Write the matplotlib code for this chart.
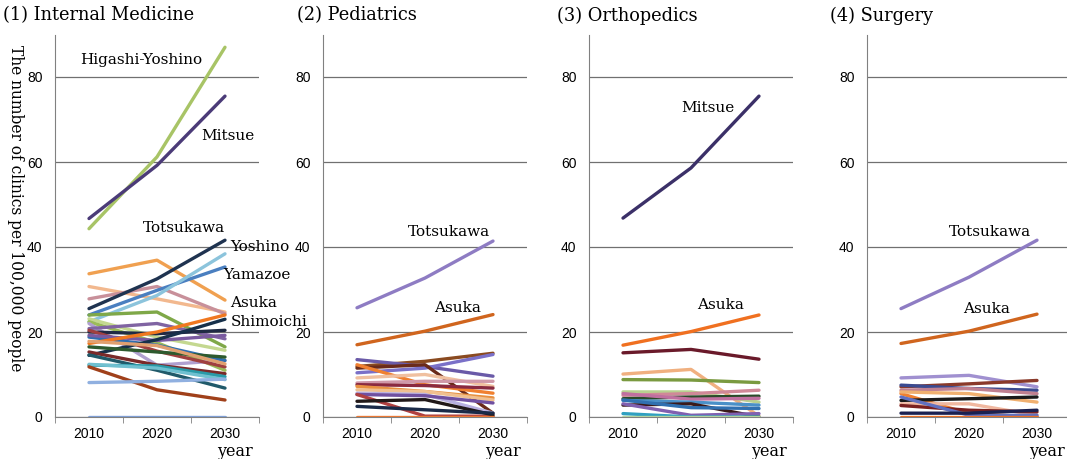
"""Projected clinics per 100,000 people by municipality, four specialties."""

import matplotlib
matplotlib.use("Agg")
import matplotlib.pyplot as plt

YEARS = [2010, 2020, 2030]

# each row: values at 2010, 2020, 2030
INTERNAL = [
    [44.3, 61.2, 87.0],   # Higashi-Yoshino
    [46.7, 59.2, 75.5],   # Mitsue
    [33.7, 36.9, 27.5],
    [30.7, 27.8, 24.7],
    [27.8, 30.7, 24.3],
    [24.0, 29.8, 35.3],   # Yamazoe
    [22.4, 28.6, 38.4],   # Yoshino
    [25.5, 32.5, 41.6],   # Totsukawa
    [24.0, 24.7, 16.5],
    [23.1, 18.8, 15.7],
    [22.4, 17.5, 11.0],
    [22.0, 12.2, 13.3],
    [20.8, 22.0, 18.4],
    [20.0, 19.6, 20.4],
    [20.4, 15.5, 11.8],
    [18.8, 16.9, 13.3],
    [19.2, 18.0, 19.2],
    [17.3, 20.0, 24.0],   # Asuka
    [14.5, 18.2, 23.0],   # Shimoichi
    [16.5, 15.3, 14.1],
    [15.3, 12.2, 10.2],
    [17.8, 16.8, 12.5],
    [14.6, 11.0, 6.8],
    [12.2, 12.0, 9.5],
    [12.4, 11.5, 8.8],
    [11.8, 6.4, 4.0],
    [8.1, 8.4, 8.9],
    [0.0, 0.0, 0.0],
]
INTERNAL_COLORS = [
    "#a8c466", "#4b3b78", "#f0a050", "#f2b88e", "#c8909a", "#4a7fc0",
    "#8cc4dc", "#1f3350", "#7fa848", "#c4d890", "#9bbb59", "#b0a0d0",
    "#8064a2", "#1f2a44", "#a04040", "#2f6eb0", "#7a5aa0", "#f07820",
    "#17304a", "#2e5a2e", "#7a2a2a", "#e0a070", "#205a6a", "#2a9aa8",
    "#70c0d0", "#a0401a", "#90b0e0", "#7fa0d8",
]

PEDIATRICS = [
    [25.7, 32.7, 41.4],   # Totsukawa
    [17.0, 20.2, 24.1],   # Asuka
    [11.9, 13.1, 15.0],
    [13.5, 11.9, 9.6],
    [10.4, 11.5, 14.7],
    [11.5, 12.3, 0.9],
    [12.3, 7.6, 5.6],
    [9.2, 10.0, 7.2],
    [8.0, 8.4, 8.4],
    [7.6, 7.4, 6.8],
    [7.2, 6.0, 4.5],
    [6.4, 6.0, 4.0],
    [5.6, 5.3, 0.9],
    [5.3, 5.0, 3.3],
    [5.3, 0.2, 0.2],
    [3.7, 4.1, 0.5],
    [2.5, 1.7, 0.9],
    [0.0, 0.0, 0.0],
]
PEDIATRICS_COLORS = [
    "#8e7cc3", "#d0651e", "#8a4a20", "#6a5aa8", "#7a70c8", "#6a2a1a",
    "#f08030", "#f0c0a0", "#d098a8", "#8a2a40", "#e89040", "#f0c090",
    "#b8b0e0", "#7050a0", "#b04040", "#201818", "#1a2a48", "#f07830",
]

ORTHOPEDICS = [
    [46.8, 58.6, 75.5],   # Mitsue
    [16.9, 20.1, 24.0],   # Asuka
    [15.1, 15.9, 13.6],
    [10.1, 11.2, 0.2],
    [8.8, 8.7, 8.1],
    [5.9, 5.9, 3.5],
    [5.1, 5.5, 6.3],
    [4.3, 4.7, 4.9],
    [5.5, 4.2, 4.4],
    [3.9, 3.5, 2.8],
    [2.8, 3.1, 0.0],
    [3.1, 0.4, 0.8],
    [4.0, 2.2, 2.0],
    [0.8, 0.0, 0.0],
    [0.0, 0.0, 0.0],
]
ORTHOPEDICS_COLORS = [
    "#3b3068", "#f07020", "#6a1a2a", "#f0b080", "#7a9a40", "#b8d090",
    "#d08898", "#2a4a2a", "#c070a0", "#4a90c8", "#3a1a1a", "#8060b0",
    "#3070b0", "#30a0c0", "#b8d8a0",
]

SURGERY = [
    [25.5, 32.9, 41.6],   # Totsukawa
    [17.3, 20.2, 24.2],   # Asuka
    [9.2, 9.8, 7.1],
    [7.1, 7.8, 8.6],
    [7.5, 6.7, 6.3],
    [6.3, 6.7, 5.5],
    [5.5, 0.8, 0.0],
    [5.9, 5.5, 3.5],
    [3.1, 3.1, 0.4],
    [3.9, 4.3, 4.7],
    [2.7, 1.6, 1.2],
    [4.7, 0.4, 0.4],
    [0.9, 0.9, 1.6],
    [0.0, 0.0, 0.0],
]
SURGERY_COLORS = [
    "#8e7cc3", "#d0651e", "#a090d0", "#8a3a2a", "#3a4a90", "#c08090",
    "#f08030", "#f0b070", "#f0b8a0", "#1a1a1a", "#7a2020", "#6070c0",
    "#1a2050", "#f07020",
]

TITLES = ["(1) Internal Medicine", "(2) Pediatrics", "(3) Orthopedics", "(4) Surgery"]

# (text, x, y, ha)
LABELS = [
    [("Higashi-Yoshino", 2017.7, 84.0, "center"), ("Mitsue", 2030.4, 66.0, "center"),
     ("Totsukawa", 2024.0, 44.5, "center"), ("Yoshino", 2030.8, 40.0, "left"),
     ("Yamazoe", 2029.8, 33.4, "left"), ("Asuka", 2030.8, 26.8, "left"),
     ("Shimoichi", 2030.9, 22.3, "left")],
    [("Totsukawa", 2023.5, 43.5, "center"), ("Asuka", 2024.8, 25.6, "center")],
    [("Mitsue", 2022.5, 72.6, "center"), ("Asuka", 2024.3, 26.3, "center")],
    [("Totsukawa", 2023.1, 43.5, "center"), ("Asuka", 2022.6, 25.4, "center")],
]

SERIF = ["DejaVu Serif"]
FIG_W, FIG_H = 1067, 459


def draw_panel(ax, rows, colors, title, title_dx, labels, show_ylabel):
    for vals, col in zip(rows, colors):
        ax.plot(YEARS, vals, color=col, linewidth=2.4, solid_capstyle="round")

    ax.set_xlim(2005, 2035)
    ax.set_ylim(0, 90)
    ax.set_yticks([0, 20, 40, 60, 80])
    ax.set_xticks(YEARS)
    ax.set_xticks([2005, 2015, 2025, 2035], minor=True)
    ax.tick_params(axis="x", which="major", length=0, pad=7, labelsize=10)
    ax.tick_params(axis="x", which="minor", length=4, direction="out", color="#808080")
    ax.tick_params(axis="y", length=0, pad=9, labelsize=10)
    for lab in ax.get_xticklabels() + ax.get_yticklabels():
        lab.set_family("Liberation Sans")
    ax.grid(axis="y", color="#707070", linewidth=0.9)
    ax.set_axisbelow(True)

    for side in ("top", "right"):
        ax.spines[side].set_visible(False)
    for side in ("left", "bottom"):
        ax.spines[side].set_color("#808080")

    ax.text(title_dx / 204, 1.0 + 19 / 382.5, title, transform=ax.transAxes,
            fontsize=12.8, family=SERIF, ha="left", va="center")
    ax.text(0.88, -35 / 382.5, "year", transform=ax.transAxes, fontsize=11.5,
            family=SERIF, ha="center", va="center")

    for text, x, y, ha in labels:
        ax.text(x, y, text, fontsize=11, family=SERIF, ha=ha, va="center",
                clip_on=False)

    if show_ylabel:
        ax.text(-40 / 204, 0.546, "The number of clinics per 100,000 people",
                transform=ax.transAxes, fontsize=11.2, family=SERIF,
                rotation=-90, ha="center", va="center")


def main():
    fig = plt.figure(figsize=(FIG_W / 100, FIG_H / 100), dpi=100)
    lefts = [55, 323, 589, 867]
    title_dx = [-52, -26, -32, -37]
    width = 204 / FIG_W
    bottom = (FIG_H - 417) / FIG_H
    height = 382.5 / FIG_H

    data = [
        (INTERNAL, INTERNAL_COLORS),
        (PEDIATRICS, PEDIATRICS_COLORS),
        (ORTHOPEDICS, ORTHOPEDICS_COLORS),
        (SURGERY, SURGERY_COLORS),
    ]
    for i, (rows, colors) in enumerate(data):
        ax = fig.add_axes([lefts[i] / FIG_W, bottom, width, height])
        draw_panel(ax, rows, colors, TITLES[i], title_dx[i], LABELS[i], i == 0)

    fig.savefig("out.png", dpi=100)
    plt.close(fig)


if __name__ == "__main__":
    main()
